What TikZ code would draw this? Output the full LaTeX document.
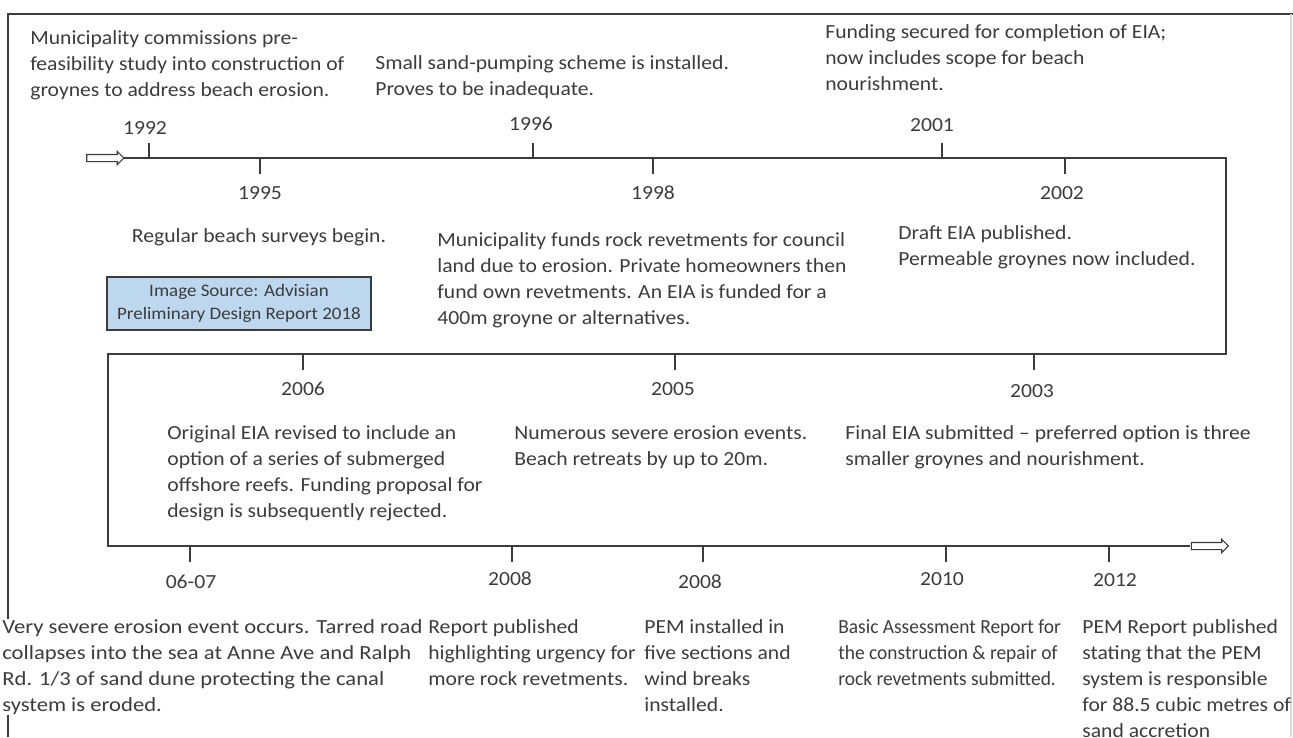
\documentclass[tikz,border=0pt]{standalone}
\usepackage{fontspec}
\setmainfont[FakeStretch=1.08]{Carlito}
\newfontfamily\tightfont[FakeStretch=0.97]{Carlito}
\newfontfamily\widefont[FakeStretch=1.13]{Carlito}
\usetikzlibrary{shapes.arrows}
\definecolor{inkgray}{HTML}{3C3C3C}
\definecolor{srcblue}{HTML}{BDD7EE}
\begin{document}
\begin{tikzpicture}
[
    x=0.02cm, y=-0.02cm,
    every node/.style={inner sep=0, text=inkgray, font=\fontsize{11.4}{14.8}\selectfont},
    event/.style={anchor=north west, align=left},
    year/.style={anchor=base},
    axis/.style={draw=inkgray, line width=1.1pt},
    tick/.style={draw=inkgray, line width=0.9pt},
    hollow/.style={single arrow, draw=inkgray, fill=white, line width=0.6pt, minimum height=0.74cm, single arrow head extend=0.06cm, inner sep=0.06cm},
    srcbox/.style={draw=inkgray, fill=srcblue, line width=0.8pt, minimum width=5.28cm, minimum height=1.06cm, align=center, font=\fontsize{10}{13.5}\selectfont},
]
\useasboundingbox (0,0) rectangle (1293,737);

\draw[draw=inkgray, line width=0.9pt] (8,737) -- (8,14) -- (1293,14);
\draw[draw=black!15, line width=0.6pt] (1291,14) -- (1291,737);

\coordinate(s0) at (122,158);
\coordinate(c1) at (1226,158);
\coordinate(c2) at (1226,354);
\coordinate(c3) at (108,354);
\coordinate(c4) at (108,546);
\coordinate(s1) at (1190,546);
\draw[axis] (s0) -- (c1) -- (c2) -- (c3) -- (c4) -- (s1);
\node(a0) at (103.5,158)[hollow]{};
\node(a1) at (1208,546)[hollow]{};

\draw[tick] (149,158) -- (149,143);
\draw[tick] (260,158) -- (260,174);
\draw[tick] (533,158) -- (533,143);
\draw[tick] (653,158) -- (653,174);
\draw[tick] (942,158) -- (942,143);
\draw[tick] (1065,158) -- (1065,174);
\draw[tick] (303,354) -- (303,370);
\draw[tick] (675,354) -- (675,370);
\draw[tick] (1034,354) -- (1034,370);
\draw[tick] (190,546) -- (190,562);
\draw[tick] (512,546) -- (512,562);
\draw[tick] (703,546) -- (703,562);
\draw[tick] (946,546) -- (946,562);
\draw[tick] (1109,546) -- (1109,562);

\node(y1992) at (145,134)[year]{1992};
\node(y1995) at (260,199)[year]{1995};
\node(y1996) at (531,130)[year]{1996};
\node(y1998) at (653,199)[year]{1998};
\node(y2001) at (932,131)[year]{2001};
\node(y2002) at (1062,199)[year]{2002};
\node(y2006) at (303,395)[year]{2006};
\node(y2005) at (673,395)[year]{2005};
\node(y2003) at (1032,397)[year]{2003};
\node(y0607) at (191,588)[year]{06-07};
\node(y2008a) at (510,585)[year]{2008};
\node(y2008b) at (700,588)[year]{2008};
\node(y2010) at (942,585)[year]{2010};
\node(y2012) at (1115,586)[year]{2012};

\node(e1992) at (30,30)[event]{Municipality commissions pre-\\feasibility study into construction of\\groynes to address beach erosion.};
\node(e1996) at (375,55)[event]{Small sand-pumping scheme is installed.\\Proves to be inadequate.};
\node(e2001) at (825,24)[event]{Funding secured for completion of EIA;\\now includes scope for beach\\nourishment.};
\node(e1995) at (259,242)[year]{Regular beach surveys begin.};
\node(e1998) at (437,232)[event]{Municipality funds rock revetments for council\\land due to erosion. Private homeowners then\\fund own revetments. An EIA is funded for a\\400m groyne or alternatives.};
\node(e2002) at (898,225)[event]{Draft EIA published.\\Permeable groynes now included.};
\node(src) at (239,303.5)[srcbox]{Image Source: Advisian\\Preliminary Design Report 2018};

\node(e2006) at (167,425)[event]{Original EIA revised to include an\\option of a series of submerged\\offshore reefs. Funding proposal for\\design is subsequently rejected.};
\node(e2005) at (514,425)[event]{Numerous severe erosion events.\\Beach retreats by up to 20m.};
\node(e2003) at (845,425)[event]{Final EIA submitted – preferred option is three\\smaller groynes and nourishment.};

\node(e0607) at (2,619)[event, fill=white, font=\fontsize{11.4}{14.8}\widefont]{Very severe erosion event occurs. Tarred road\\collapses into the sea at Anne Ave and Ralph\\Rd. 1/3 of sand dune protecting the canal\\system is eroded.};
\node(e2008a) at (428,619)[event]{Report published\\highlighting urgency for\\more rock revetments.};
\node(e2008b) at (644,619)[event]{PEM installed in\\five sections and\\wind breaks\\installed.};
\node(e2010) at (838,619)[event, font=\fontsize{11.4}{14.8}\tightfont]{Basic Assessment Report for\\the construction \& repair of\\rock revetments submitted.};
\node(e2012) at (1082,619)[event]{PEM Report published\\stating that the PEM\\system is responsible\\for 88.5 cubic metres of\\sand accretion};

\end{tikzpicture}
\end{document}
